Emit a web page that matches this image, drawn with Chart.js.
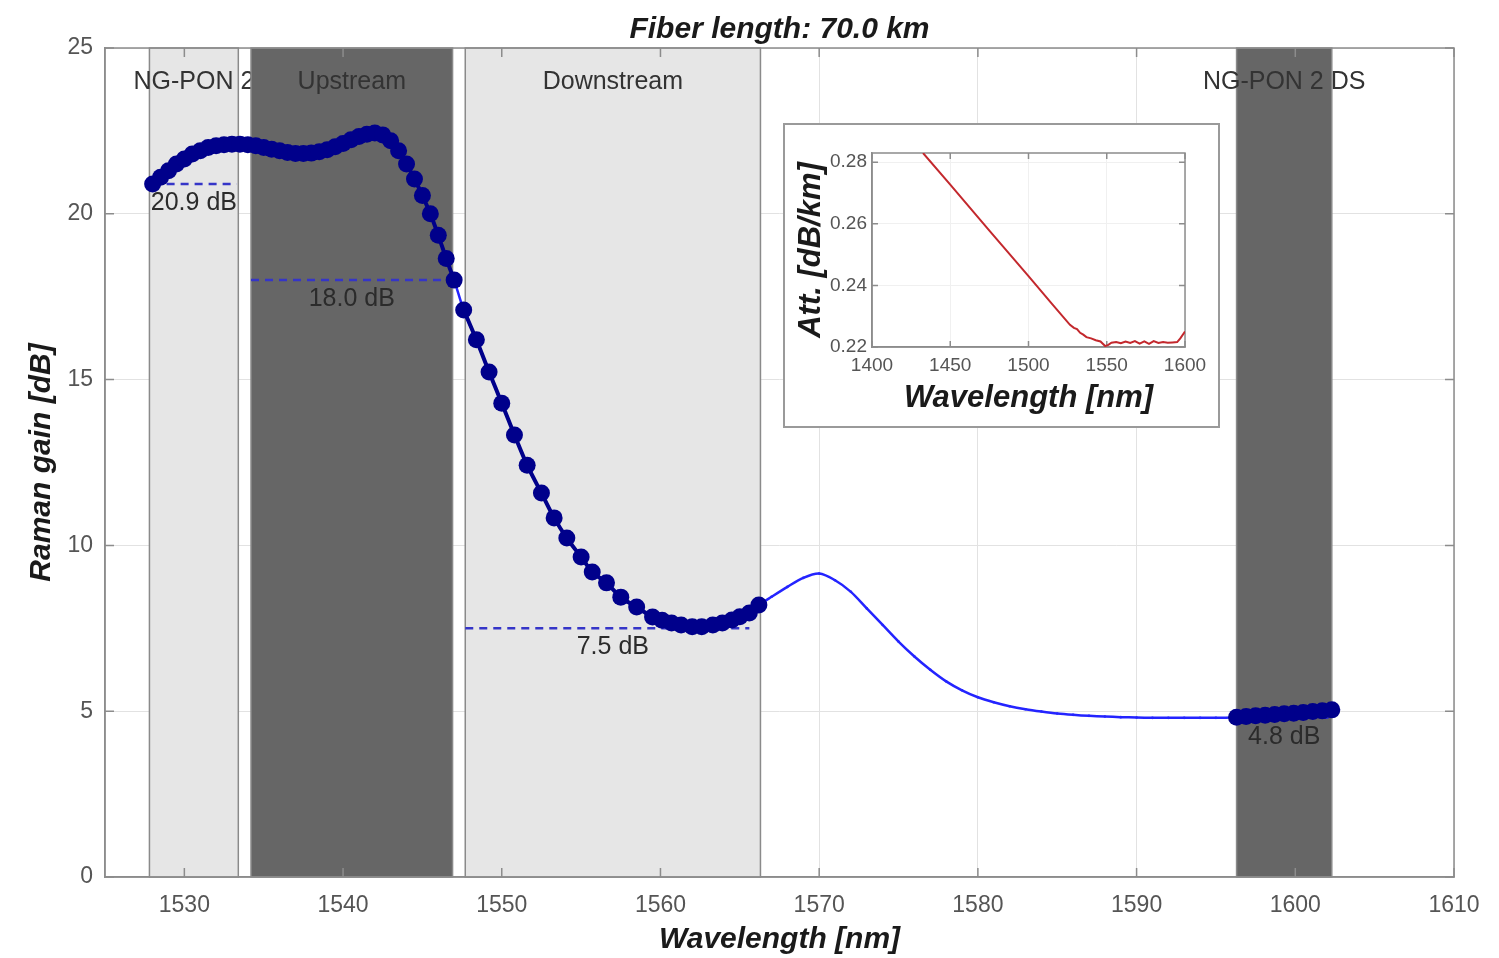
<!DOCTYPE html>
<html>
<head>
<meta charset="utf-8">
<script src="https://cdn.jsdelivr.net/npm/chart.js@4.4.1/dist/chart.umd.min.js"></script>
<style>
  body { margin: 0; background: #fff; }
  #wrap { position: relative; width: 1499px; height: 958px; }
  #inset {
    position: absolute; left: 783px; top: 123px; width: 437px; height: 305px;
    border: 2px solid #9a9a9a; box-sizing: border-box; background: #fff;
  }
</style>
</head>
<body>
<div id="wrap">
  <canvas id="gainChart"></canvas>
  <div id="inset"><canvas id="attChart"></canvas></div>
</div>
<script>
// Raman gain (nm / dB)
const wlUp = [1528.0, 1528.5, 1529.0, 1529.5, 1530.0, 1530.5, 1531.0, 1531.5, 1532.0, 1532.5,
  1533.0, 1533.5, 1534.0, 1534.5, 1535.0, 1535.5, 1536.0, 1536.5, 1537.0, 1537.5, 1538.0,
  1538.5, 1539.0, 1539.5, 1540.0, 1540.5, 1541.0, 1541.5, 1542.0, 1542.5, 1543.0, 1543.5,
  1544.0, 1544.5, 1545.0, 1545.5, 1546.0, 1546.5, 1547.0];
const gainUp = [20.9, 21.1, 21.3, 21.5, 21.65, 21.8, 21.9, 22.0, 22.05, 22.08,
  22.1, 22.1, 22.08, 22.05, 22.0, 21.95, 21.9, 21.85, 21.82, 21.82, 21.83,
  21.87, 21.93, 22.02, 22.12, 22.23, 22.33, 22.4, 22.44, 22.38, 22.2, 21.9,
  21.5, 21.05, 20.55, 20.0, 19.35, 18.65, 18.0];

const wlDown = [1547.6, 1548.4, 1549.2, 1550.0, 1550.8, 1551.6, 1552.5, 1553.3, 1554.1, 1555.0,
  1555.7, 1556.6, 1557.5, 1558.5, 1559.5, 1560.1, 1560.7, 1561.3, 1562.0, 1562.6, 1563.3,
  1563.9, 1564.5, 1565.0, 1565.6, 1566.2];
const gainDown = [17.1, 16.2, 15.23, 14.29, 13.33, 12.42, 11.58, 10.83, 10.22, 9.65,
  9.2, 8.87, 8.44, 8.14, 7.84, 7.74, 7.66, 7.6, 7.55, 7.55, 7.6,
  7.66, 7.75, 7.85, 7.96, 8.2];

const wlMid = [1567, 1568, 1569, 1570, 1571, 1572, 1573, 1574, 1575, 1576, 1577, 1578,
  1579, 1580, 1581, 1582, 1583, 1584, 1585, 1586, 1587, 1588, 1589, 1590, 1591, 1592, 1593,
  1594, 1595];
const gainMid = [8.45, 8.75, 9.02, 9.15, 8.95, 8.6, 8.1, 7.6, 7.1, 6.65, 6.25, 5.9,
  5.63, 5.42, 5.27, 5.15, 5.06, 4.99, 4.93, 4.89, 4.86, 4.84, 4.82, 4.81, 4.8, 4.8, 4.8,
  4.8, 4.8];

const wlDs = [1596.3, 1596.9, 1597.5, 1598.1, 1598.7, 1599.3, 1599.9, 1600.5, 1601.1, 1601.7, 1602.3];
const gainDs = [4.82, 4.84, 4.86, 4.88, 4.9, 4.92, 4.94, 4.96, 4.99, 5.01, 5.04];

// wavelength bands
const bandNames = ['NG-PON 2', 'Upstream', 'Downstream', 'NG-PON 2 DS'];
const bandStart = [1527.8, 1534.2, 1547.7, 1596.3];
const bandEnd = [1533.4, 1546.9, 1566.3, 1602.3];
const bandShade = ['#e6e6e6', '#666666', '#e6e6e6', '#666666'];

// minimum gain per band (dashed lines)
const refGain = [20.9, 18.0, 7.5, 4.8];
const refStart = [1528.0, 1534.2, 1547.7, 1596.3];
const refEnd = [1533.3, 1546.8, 1565.6, 1602.3];

const xTicks = [1530, 1540, 1550, 1560, 1570, 1580, 1590, 1600, 1610];
const yTicks = [0, 5, 10, 15, 20, 25];

// inset: fibre attenuation (nm / dB/km)
const attWl = [1432.6, 1450, 1475, 1500, 1515, 1526.5, 1529, 1531, 1533, 1535, 1537, 1540, 1543,
  1546, 1549, 1551, 1553, 1556, 1559, 1562, 1565, 1568, 1571, 1574, 1577, 1580, 1583, 1586,
  1589, 1592, 1595, 1597, 1600];
const attVal = [0.283, 0.2727, 0.2578, 0.243, 0.234, 0.2272, 0.2262, 0.2258, 0.2246, 0.224,
  0.2232, 0.2228, 0.2222, 0.2218, 0.2203, 0.2207, 0.2214, 0.2216, 0.2212, 0.2218, 0.2213,
  0.2219, 0.2211, 0.2218, 0.221, 0.2219, 0.2213, 0.2216, 0.2214, 0.2215, 0.2216, 0.2228, 0.225];
const attXTicks = [1400, 1450, 1500, 1550, 1600];
const attYTicks = [0.22, 0.24, 0.26, 0.28];

const FONT = "'Liberation Sans', Arial, sans-serif";
const toPts = (xs, ys) => xs.map((x, i) => ({ x, y: ys[i] }));

// draws the plot frame and MATLAB-style inward ticks
function drawFrame(chart, tickLen) {
  const { ctx, chartArea: a, scales } = chart;
  ctx.save();
  ctx.strokeStyle = '#8c8c8c';
  ctx.lineWidth = 1.5;
  ctx.strokeRect(a.left, a.top, a.right - a.left, a.bottom - a.top);
  ctx.beginPath();
  scales.x.ticks.forEach((t) => {
    const px = scales.x.getPixelForValue(t.value);
    ctx.moveTo(px, a.bottom); ctx.lineTo(px, a.bottom - tickLen);
    ctx.moveTo(px, a.top); ctx.lineTo(px, a.top + tickLen);
  });
  scales.y.ticks.forEach((t) => {
    const py = scales.y.getPixelForValue(t.value);
    ctx.moveTo(a.left, py); ctx.lineTo(a.left + tickLen, py);
    ctx.moveTo(a.right, py); ctx.lineTo(a.right - tickLen, py);
  });
  ctx.stroke();
  ctx.restore();
}

const bandPlugin = {
  id: 'bands',
  beforeDatasetsDraw(chart) {
    const { ctx, chartArea: a, scales: { x } } = chart;
    ctx.save();
    bandNames.forEach((name, i) => {
      const x0 = x.getPixelForValue(bandStart[i]);
      const x1 = x.getPixelForValue(bandEnd[i]);
      ctx.fillStyle = bandShade[i];
      ctx.fillRect(x0, a.top, x1 - x0, a.bottom - a.top);
      ctx.strokeStyle = '#8a8a8a';
      ctx.lineWidth = 1.5;
      ctx.strokeRect(x0, a.top, x1 - x0, a.bottom - a.top);
      ctx.fillStyle = '#333';
      ctx.font = `25px ${FONT}`;
      ctx.textAlign = 'center';
      ctx.textBaseline = 'middle';
      ctx.fillText(name, (x0 + x1) / 2, a.top + 34);
    });
    ctx.restore();
    drawFrame(chart, 9);
  },
  afterDatasetsDraw(chart) {
    const { ctx, chartArea: a, scales: { x, y } } = chart;
    ctx.save();
    ctx.font = `25px ${FONT}`;
    ctx.fillStyle = '#2b2b2b';
    ctx.textAlign = 'center';
    ctx.textBaseline = 'middle';
    refGain.forEach((g, i) => {
      const cx = (x.getPixelForValue(bandStart[i]) + x.getPixelForValue(bandEnd[i])) / 2;
      ctx.fillText(g.toFixed(1) + ' dB', cx, y.getPixelForValue(g) + 19);
    });
    // title
    ctx.font = `italic bold 30px ${FONT}`;
    ctx.fillStyle = '#1a1a1a';
    ctx.fillText('Fiber length: 70.0 km', (a.left + a.right) / 2, 30);
    ctx.restore();
  },
};

const refSets = refGain.map((g, i) => ({
  data: [{ x: refStart[i], y: g }, { x: refEnd[i], y: g }],
  borderColor: '#3535c8',
  borderWidth: 2.5,
  borderDash: [8, 6],
  pointRadius: 0,
  order: 3,
}));

const markerSet = (xs, ys) => ({
  data: toPts(xs, ys),
  borderColor: '#00008b',
  backgroundColor: '#00008b',
  borderWidth: 4,
  pointRadius: 8.5,
  pointBorderWidth: 0,
  tension: 0.3,
  order: 1,
});

new Chart(document.getElementById('gainChart'), {
  type: 'line',
  data: {
    datasets: [
      markerSet(wlUp, gainUp),
      markerSet(wlDown, gainDown),
      markerSet(wlDs, gainDs),
      {
        // thin curve running under the whole trace
        data: toPts([...wlUp, ...wlDown, ...wlMid, ...wlDs], [...gainUp, ...gainDown, ...gainMid, ...gainDs]),
        borderColor: '#2424ff',
        backgroundColor: '#2424ff',
        borderWidth: 2.5,
        pointRadius: 1.3,
        pointBorderWidth: 0,
        tension: 0.3,
        order: 2,
      },
      ...refSets,
    ],
  },
  options: {
    responsive: true,
    maintainAspectRatio: false,
    animation: false,
    layout: { padding: { top: 48, right: 45 } },
    plugins: { legend: { display: false }, tooltip: { enabled: false } },
    scales: {
      x: {
        type: 'linear',
        min: 1525,
        max: 1610,
        afterBuildTicks: (s) => { s.ticks = xTicks.map((v) => ({ value: v })); },
        afterFit: (s) => { s.height = 81; },
        grid: { color: '#e2e2e2', lineWidth: 1, drawTicks: false },
        border: { color: '#8c8c8c', width: 1.5 },
        ticks: { padding: 15, color: '#555', font: { family: FONT, size: 23 }, callback: (v) => String(v) },
        title: {
          display: true,
          text: 'Wavelength [nm]',
          color: '#1a1a1a',
          font: { family: FONT, size: 30, weight: 'bold', style: 'italic' },
          padding: { top: 0, bottom: 0 },
        },
      },
      y: {
        min: 0,
        max: 25,
        afterBuildTicks: (s) => { s.ticks = yTicks.map((v) => ({ value: v })); },
        afterFit: (s) => { s.width = 105; },
        grid: { color: '#e2e2e2', lineWidth: 1, drawTicks: false },
        border: { color: '#8c8c8c', width: 1.5 },
        ticks: { padding: 12, color: '#555', font: { family: FONT, size: 23 } },
        title: {
          display: true,
          text: 'Raman gain [dB]',
          color: '#1a1a1a',
          font: { family: FONT, size: 30, weight: 'bold', style: 'italic' },
          padding: { top: 24, bottom: 0 },
        },
      },
    },
  },
  plugins: [bandPlugin],
});

// inset chart
new Chart(document.getElementById('attChart'), {
  type: 'line',
  data: {
    datasets: [{
      data: toPts(attWl, attVal),
      borderColor: '#c3282d',
      borderWidth: 2,
      pointRadius: 0,
    }],
  },
  options: {
    responsive: true,
    maintainAspectRatio: false,
    animation: false,
    layout: { padding: { top: 28, right: 33 } },
    plugins: { legend: { display: false }, tooltip: { enabled: false } },
    scales: {
      x: {
        type: 'linear',
        min: 1400,
        max: 1600,
        afterBuildTicks: (s) => { s.ticks = attXTicks.map((v) => ({ value: v })); },
        afterFit: (s) => { s.height = 79; },
        grid: { color: '#f0f0f0', drawTicks: false },
        border: { color: '#8c8c8c', width: 1.5 },
        ticks: { padding: 7, color: '#555', font: { family: FONT, size: 19 }, callback: (v) => String(v) },
        title: {
          display: true,
          text: 'Wavelength [nm]',
          color: '#1a1a1a',
          font: { family: FONT, size: 31, weight: 'bold', style: 'italic' },
          padding: { top: 0, bottom: 9 },
        },
      },
      y: {
        min: 0.22,
        max: 0.283,
        afterBuildTicks: (s) => { s.ticks = attYTicks.map((v) => ({ value: v })); },
        afterFit: (s) => { s.width = 87; },
        grid: { color: '#f0f0f0', drawTicks: false },
        border: { color: '#8c8c8c', width: 1.5 },
        ticks: {
          padding: 5,
          color: '#555',
          font: { family: FONT, size: 19 },
          callback: (v) => v.toFixed(2),
        },
        title: {
          display: true,
          text: 'Att. [dB/km]',
          color: '#1a1a1a',
          font: { family: FONT, size: 31, weight: 'bold', style: 'italic' },
          padding: { top: 8, bottom: 0 },
        },
      },
    },
  },
  plugins: [{ id: 'insetFrame', beforeDatasetsDraw: (chart) => drawFrame(chart, 6) }],
});
</script>
</body>
</html>
